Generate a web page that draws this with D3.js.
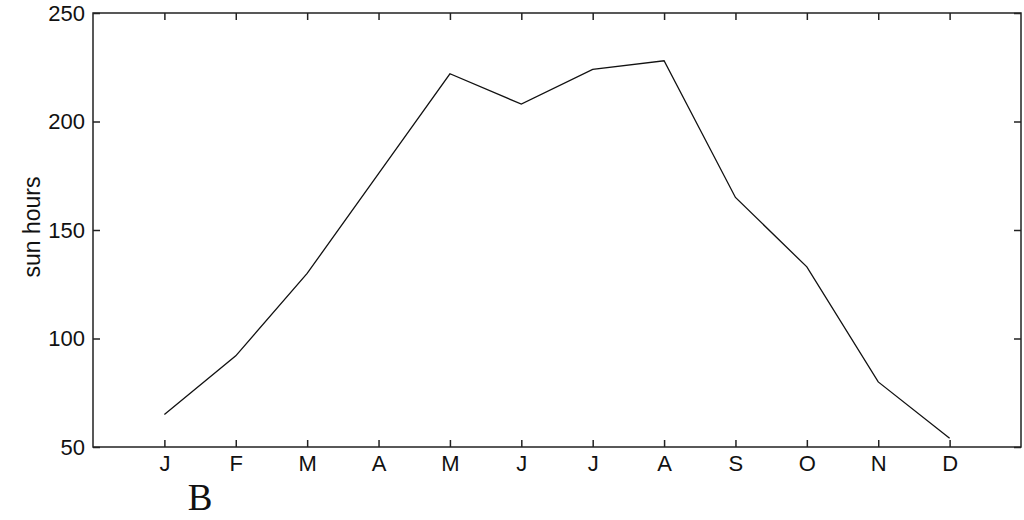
<!DOCTYPE html>
<html>
<head>
<meta charset="utf-8">
<script src="https://cdn.jsdelivr.net/npm/d3@7"></script>
<style>
    body { margin: 0; background: #fff; }
    svg { display: block; }
    text { font-family: "Liberation Sans", Arial, sans-serif; fill: #111; }
</style>
</head>
<body>
<svg id="chart" width="1024" height="520"></svg>
<script>
let months = ["J", "F", "M", "A", "M", "J", "J", "A", "S", "O", "N", "D"];
let sunHours = [65, 92, 130, 176, 222, 208, 224, 228, 165, 133, 80, 54];
let yTicks = [50, 100, 150, 200, 250];

let margin = { left: 93, right: 1021, top: 13, bottom: 447 };

let svg = d3.select("#chart");

let x = d3.scaleLinear().domain([0, 13]).range([margin.left, margin.right]);
let y = d3.scaleLinear().domain([50, 250]).range([margin.bottom, margin.top]);

let monthIdx = months.map((m, i) => i + 1);

// frame
svg.append("rect")
    .attr("x", margin.left)
    .attr("y", margin.top)
    .attr("width", margin.right - margin.left)
    .attr("height", margin.bottom - margin.top)
    .attr("fill", "none")
    .attr("stroke", "#222")
    .attr("stroke-width", 1.5);

let tickLen = 7;

// axes on all four sides, ticks pointing inward
let axisBottomG = svg.append("g")
    .attr("transform", `translate(0,${margin.bottom})`)
    .call(d3.axisBottom(x).tickValues(monthIdx).tickSizeInner(-tickLen).tickSizeOuter(0).tickPadding(8)
        .tickFormat((d) => months[d - 1]));
let axisTopG = svg.append("g")
    .attr("transform", `translate(0,${margin.top})`)
    .call(d3.axisTop(x).tickValues(monthIdx).tickSizeInner(-tickLen).tickSizeOuter(0).tickFormat(""));
let axisLeftG = svg.append("g")
    .attr("transform", `translate(${margin.left},0)`)
    .call(d3.axisLeft(y).tickValues(yTicks).tickSizeInner(-tickLen).tickSizeOuter(0).tickPadding(8));
let axisRightG = svg.append("g")
    .attr("transform", `translate(${margin.right},0)`)
    .call(d3.axisRight(y).tickValues(yTicks).tickSizeInner(-tickLen).tickSizeOuter(0).tickFormat(""));

[axisBottomG, axisTopG, axisLeftG, axisRightG].forEach((g) => {
    g.select(".domain").remove();
    g.selectAll(".tick line").attr("stroke", "#222").attr("stroke-width", 1.5);
    g.selectAll(".tick text")
        .attr("font-size", 22)
        .attr("font-family", "Liberation Sans, Arial, sans-serif")
        .attr("fill", "#111");
});

// y label
svg.append("text")
    .attr("transform", "translate(40,227) rotate(-90)")
    .attr("text-anchor", "middle")
    .attr("font-size", 23)
    .text("sun hours");

// data line
let line = d3.line()
    .x((d, i) => x(i + 1))
    .y((d) => y(d));

svg.append("path")
    .datum(sunHours)
    .attr("d", line)
    .attr("fill", "none")
    .attr("stroke", "#111")
    .attr("stroke-width", 1.3);

// panel letter
svg.append("text")
    .attr("x", 200)
    .attr("y", 510)
    .attr("text-anchor", "middle")
    .attr("font-size", 37)
    .style("font-family", "'Liberation Serif', serif")
    .text("B");
</script>
</body>
</html>
